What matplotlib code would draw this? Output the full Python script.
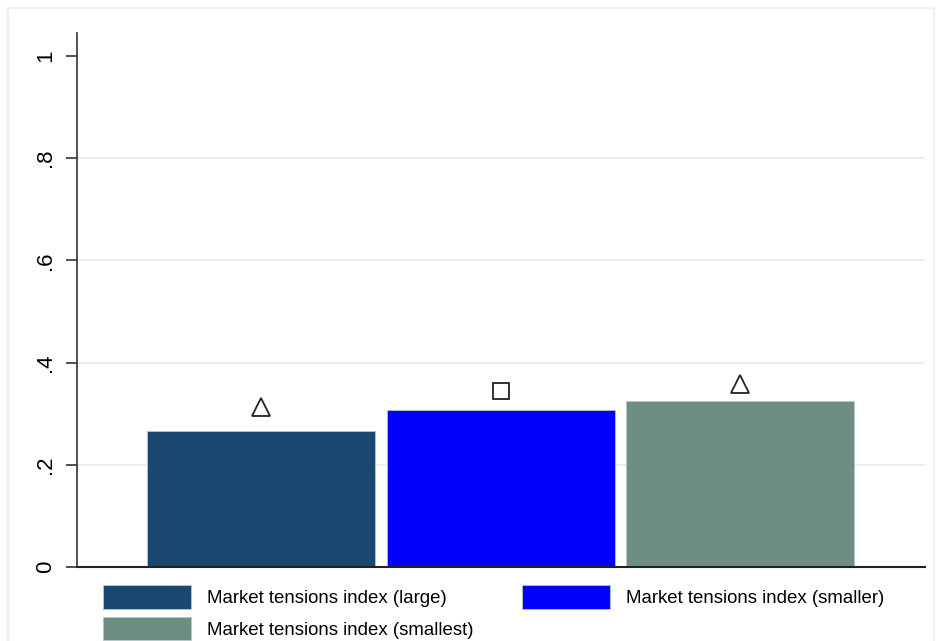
import matplotlib.pyplot as plt
from matplotlib.patches import Rectangle, Patch

plt.rcParams['font.family'] = ['Liberation Sans', 'DejaVu Sans']

# data
series = ["Market tensions index (large)", "Market tensions index (smaller)", "Market tensions index (smallest)"]
bar_values = [0.266, 0.307, 0.325]
marker_values = [0.313, 0.344, 0.358]
marker_shapes = ["^", "s", "^"]
bar_colors = ["#1a476f", "#0000ff", "#6e8e84"]
yticks = [0, 0.2, 0.4, 0.6, 0.8, 1]
ytick_labels = ["0", ".2", ".4", ".6", ".8", "1"]

fig = plt.figure(figsize=(9.38, 6.41), dpi=100)
ax = fig.add_axes([0.0821, 0.1154, 0.9045, 0.8331])

# faint outer frame like the stata graph region
fig.patches.append(Rectangle((8/938, -0.05), 926/938, 1.05 - 8/641, transform=fig.transFigure,
                             fill=False, edgecolor="#e6eef0", linewidth=1.2))

xs = range(len(series))
for i in xs:
    ax.bar(i, bar_values[i], width=0.952, color=bar_colors[i], edgecolor="#b8c6cc", linewidth=0.6, zorder=2)
    ax.plot(i, marker_values[i], marker=marker_shapes[i], markersize=13 if marker_shapes[i] == "^" else 11,
            markerfacecolor="none", markeredgecolor="#222222", markeredgewidth=1.3, linestyle="none", zorder=3)

ax.set_xlim(-0.768, 2.772)
ax.set_ylim(0, 1.045)
ax.set_yticks(yticks)
ax.set_yticklabels(ytick_labels, rotation=90, va="center", fontsize=16)
ax.set_xticks([])
for y in yticks[1:-1]:
    ax.axhline(y, color="#e4ecee", linewidth=1.2, zorder=1)

for s in ["top", "right"]:
    ax.spines[s].set_visible(False)
ax.spines["left"].set_color("#333333")
ax.spines["bottom"].set_color("#222222")
ax.spines["left"].set_linewidth(1.2)
ax.spines["bottom"].set_linewidth(1.5)
ax.tick_params(axis="y", length=8, width=1.2, color="#333333", pad=7)

# legend, column-major order gives large/smaller on row one
handles = [Patch(facecolor=bar_colors[k], edgecolor="#b8c6cc", linewidth=0.6) for k in [0, 2, 1]]
labels = [series[k] for k in [0, 2, 1]]
fig.legend(handles, labels, ncol=2, frameon=False, fontsize=13.4, loc="upper left",
           bbox_to_anchor=(0.1002, 0.1015), handlelength=4.73, handleheight=1.55,
           handletextpad=0.86, columnspacing=2.58, labelspacing=0.45, borderpad=0)

fig.savefig("out.png", dpi=100)
